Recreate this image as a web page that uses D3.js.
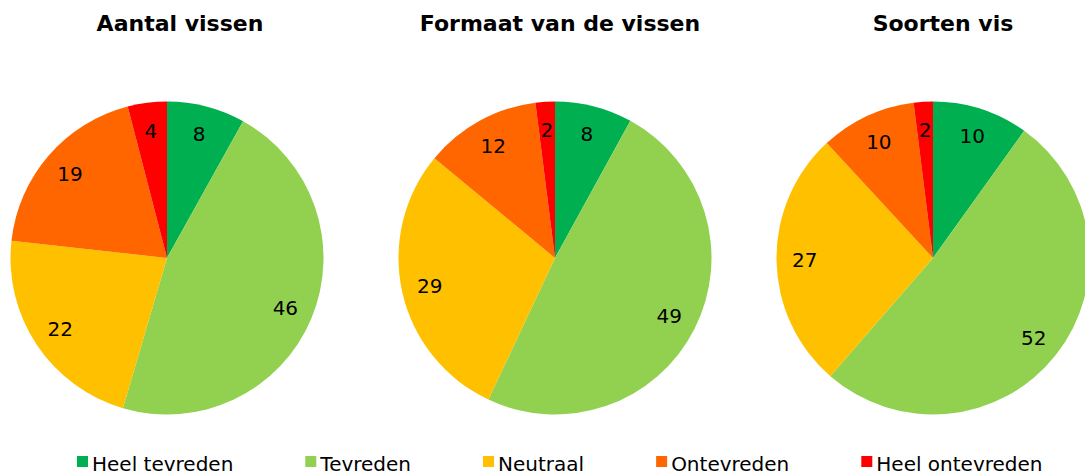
<!DOCTYPE html>
<html lang="nl">
<head>
<meta charset="utf-8">
<title>Tevredenheid vissen</title>
<script src="https://cdn.jsdelivr.net/npm/d3@7"></script>
<style>
  body { margin: 0; background: #fff; }
  text { font-family: "DejaVu Sans", Verdana, sans-serif; fill: #000; }
  .title { font-size: 22px; font-weight: bold; }
  .label { font-size: 20px; }
  .legend text { font-size: 20px; }
</style>
</head>
<body>
<div id="chart"></div>
<script>
// categories + colours
var categories = ["Heel tevreden", "Tevreden", "Neutraal", "Ontevreden", "Heel ontevreden"];
var colors = ["#00b050", "#92d050", "#ffc000", "#ff6600", "#ff0000"];

// one array per pie
var titles = ["Aantal vissen", "Formaat van de vissen", "Soorten vis"];
var aantalVissen = [8, 46, 22, 19, 4];
var formaatVissen = [8, 49, 29, 12, 2];
var soortenVis = [10, 52, 27, 10, 2];
var series = [aantalVissen, formaatVissen, soortenVis];

var w = 1085, h = 475;
var r = 156.5;
var pieX = [167, 555, 933], pieY = 258;
var titleX = [180, 560, 943], titleY = 31;

var svg = d3.select("#chart").append("svg")
    .attr("width", w)
    .attr("height", h);

var color = d3.scaleOrdinal().domain(categories).range(colors);

var pie = d3.pie().sort(null).value(function(d) { return d.value; });
var arc = d3.arc().innerRadius(0).outerRadius(r);
var labelArc = d3.arc().innerRadius(r * 0.82).outerRadius(r * 0.82);

series.forEach(function(vals, i) {
  var data = categories.map(function(c, j) { return {key: c, value: vals[j]}; });

  svg.append("text")
    .attr("class", "title")
    .attr("x", titleX[i])
    .attr("y", titleY)
    .attr("text-anchor", "middle")
    .text(titles[i]);

  var g = svg.append("g")
    .attr("transform", "translate(" + pieX[i] + "," + pieY + ")");

  g.selectAll("path")
    .data(pie(data))
    .enter().append("path")
    .attr("d", arc)
    .attr("fill", function(d) { return color(d.data.key); });

  g.selectAll(".label")
    .data(pie(data))
    .enter().append("text")
    .attr("class", "label")
    .attr("transform", function(d) { return "translate(" + labelArc.centroid(d) + ")"; })
    .attr("text-anchor", "middle")
    .attr("dy", "0.36em")
    .text(function(d) { return d.data.value; });
});

// legend, spaced by text width
var legend = svg.append("g").attr("class", "legend");
var lx = 77;
categories.forEach(function(c) {
  var item = legend.append("g").attr("transform", "translate(" + lx + ",0)");
  item.append("rect")
    .attr("x", 0).attr("y", 456)
    .attr("width", 11).attr("height", 11)
    .attr("fill", color(c));
  var t = item.append("text")
    .attr("x", 15).attr("y", 471)
    .text(c);
  lx += 15 + t.node().getComputedTextLength() + 72;
});
</script>
</body>
</html>
